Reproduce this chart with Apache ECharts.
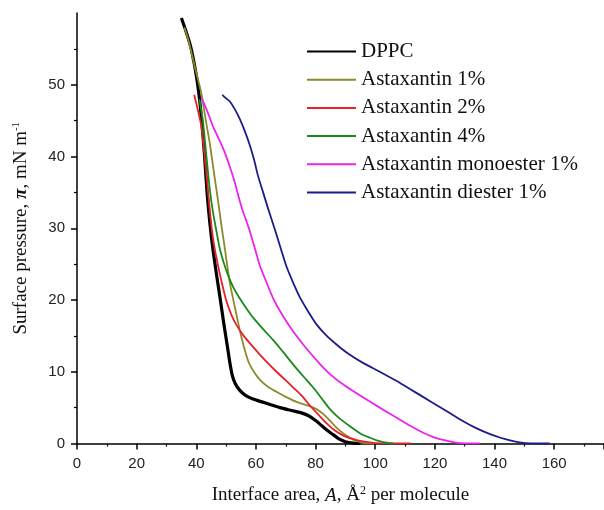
<!DOCTYPE html>
<html>
<head>
<meta charset="utf-8">
<script src="https://cdn.jsdelivr.net/npm/echarts@6/dist/echarts.min.js"></script>
<style>
  html, body { margin: 0; padding: 0; background: #fff; }
  #chart { width: 604px; height: 510px; }
</style>
</head>
<body>
<div id="chart"></div>
<script>
// [area A (Å² per molecule), surface pressure π (mN/m)]
const dppc = [[35.0,59.3],[36.5,57.5],[38.0,55.5],[39.5,52.5],[40.8,49],[41.8,45],[42.7,40.5],[43.6,35],[44.6,30.5],[45.6,27],[46.8,23.5],[48.0,20.2],[49.3,16.5],[50.4,13.6],[51.2,11.4],[52.0,9.6],[53.0,8.4],[54.6,7.4],[56.5,6.7],[59,6.2],[62,5.8],[65,5.4],[68,5.0],[72,4.6],[75,4.3],[77.5,3.9],[80,3.2],[82,2.5],[84,1.8],[86,1.2],[88,0.6],[90,0.25],[92.5,0.05],[95,0]]
const asta1 = [[36.0,58.0],[37.5,56.0],[39.5,52.5],[41.7,48.8],[43.2,45],[44.5,41.9],[46.0,37.5],[47.3,33.8],[48.5,30.2],[49.6,27.1],[51.2,22.5],[53.5,17.9],[55.2,14.7],[57.4,11.5],[59.3,10],[61.3,8.9],[64,7.9],[66.9,7.2],[70,6.5],[73.6,5.8],[76.5,5.4],[79.2,5.0],[81,4.6],[82.6,4.1],[84.8,3.2],[87.0,2.2],[89.3,1.4],[91.5,0.8],[93.5,0.35],[96,0.1],[100,0]]
const asta2 = [[39.3,48.6],[40.5,46.5],[41.7,44.2],[42.9,39.6],[44.3,33.5],[45.3,29.5],[46.2,27.1],[47.3,24.8],[48.5,22.5],[50,20],[51.8,17.9],[53.5,16.5],[55.7,15.1],[58.5,13.7],[61.3,12.4],[64,11.2],[66.9,10.0],[70,8.8],[72.5,7.8],[75.5,6.6],[78.1,5.3],[81,4],[83.7,2.8],[86.5,1.8],[89.3,1.1],[92,0.7],[94.9,0.35],[99.3,0.1],[104,0.02],[112,0]]
const asta4 = [[41.0,48.0],[42.2,45],[43.4,40],[44.5,35.5],[45.6,32.2],[46.8,29.5],[47.9,27.1],[49.2,25.2],[50.7,23.4],[52.5,21.7],[54.6,20.2],[57,18.7],[59.1,17.5],[62.5,15.9],[65.8,14.4],[69,12.8],[72.5,11.0],[76,9.3],[79.2,7.8],[82,6.3],[84.8,4.8],[88,3.5],[91.5,2.4],[95,1.4],[98.2,0.8],[100.5,0.45],[102.7,0.2],[106,0]]
const monoester = [[41.7,48.2],[43.5,46.5],[45.6,44.2],[47.6,42.4],[49.6,40.5],[51.3,38.5],[52.9,36.4],[54.3,34.2],[55.5,32.5],[56.8,31],[58.0,29.5],[59.7,27.1],[61.3,24.8],[63.5,22.5],[65.8,20.2],[69,17.8],[72.5,15.6],[77,13.2],[81.4,11.1],[85,9.6],[90,8.0],[96,6.4],[101.5,5.0],[107.2,3.6],[112,2.4],[116.1,1.5],[119.5,0.9],[122.8,0.5],[127.3,0.1],[135,0]]
const diester = [[48.7,48.6],[50.0,48.1],[51.2,47.7],[52.9,46.6],[54.6,45.2],[56.3,43.5],[58.0,41.5],[59.4,39.5],[60.7,37.3],[62.4,35],[64.1,32.7],[65.5,30.9],[66.9,29.1],[68.6,26.8],[70.3,24.6],[72.5,22.4],[74.7,20.4],[77.5,18.4],[80.3,16.6],[83.5,15.1],[87.0,13.8],[91,12.5],[96,11.2],[101.5,10.0],[107.2,8.7],[112.8,7.3],[118.4,5.9],[124,4.5],[129.5,3.1],[134,2.1],[138.5,1.3],[142,0.8],[145.2,0.45],[149.7,0.1],[154,0.02],[158.5,0]]

const names = ['DPPC', 'Astaxantin 1%', 'Astaxantin 2%', 'Astaxantin 4%', 'Astaxantin monoester 1%', 'Astaxantin diester 1%']
const colors = ['#000000', '#8c8a2a', '#e8202a', '#1a8a1a', '#ee22ee', '#1c1c8a']
const widths = [3.2, 1.8, 1.8, 1.8, 1.8, 1.8]
const allData = [dppc, asta1, asta2, asta4, monoester, diester]
const yTicks = [0, 10, 20, 30, 40, 50]

const serif = '"Liberation Serif", "Times New Roman", serif'
const sans = '"Liberation Sans", Arial, sans-serif'

var myChart = echarts.init(document.getElementById('chart'))
var option = {
  animation: false,
  grid: { left: 77, right: 0, top: 13, bottom: 64 },
  legend: {
    orient: 'vertical',
    left: 301,
    top: 36,
    itemWidth: 49,
    itemHeight: 14,
    itemGap: 7.2,
    itemStyle: { opacity: 0 },
    textStyle: { fontFamily: serif, fontSize: 21, color: '#111', lineHeight: 20 },
    data: names
  },
  xAxis: {
    type: 'value',
    min: 0,
    max: 176.7,
    interval: 20,
    splitLine: { show: false },
    axisLine: { lineStyle: { color: '#000', width: 1.5 } },
    axisTick: { length: 6, lineStyle: { color: '#000', width: 1.5 } },
    minorTick: { show: true, splitNumber: 2, length: 3, lineStyle: { color: '#000', width: 1.2 } },
    axisLabel: { showMaxLabel: false, margin: 13, fontFamily: sans, fontSize: 15, color: '#222' },
    name: '{n|Interface area, }{i|A}{n|, Å}{sup|2}{n| per molecule}',
    nameLocation: 'middle',
    nameGap: 41,
    nameTextStyle: {
      rich: {
        n: { fontFamily: serif, fontSize: 19, color: '#111' },
        i: { fontFamily: serif, fontSize: 19, fontStyle: 'italic', color: '#111' },
        sup: { fontFamily: serif, fontSize: 12, color: '#111', padding: [0, 0, 10, 0] }
      }
    }
  },
  yAxis: {
    type: 'value',
    min: 0,
    max: 60,
    interval: 10,
    splitLine: { show: false },
    axisLine: { lineStyle: { color: '#000', width: 1.5 } },
    axisTick: { length: 6, customValues: yTicks, lineStyle: { color: '#000', width: 1.5 } },
    minorTick: { show: true, splitNumber: 2, length: 3, lineStyle: { color: '#000', width: 1.2 } },
    axisLabel: { customValues: yTicks, margin: 12, fontFamily: sans, fontSize: 15, color: '#222' },
    name: '{n|Surface pressure, }{i|π}{n|, mN m}{sup|-1}',
    nameLocation: 'middle',
    nameGap: 45,
    nameRotate: 90,
    nameTextStyle: {
      rich: {
        n: { fontFamily: serif, fontSize: 19, color: '#111' },
        i: { fontFamily: serif, fontSize: 19, fontStyle: 'italic', fontWeight: 'bold', color: '#111' },
        sup: { fontFamily: serif, fontSize: 11, color: '#111', padding: [0, 0, 10, 0] }
      }
    }
  },
  series: allData.map(function (d, i) {
    return {
      name: names[i],
      type: 'line',
      data: d,
      symbol: 'none',
      smooth: 0.25,
      z: i === 0 ? 1 : 2 + i,
      color: colors[i],
      lineStyle: { color: colors[i], width: widths[i] }
    }
  })
}
option && myChart.setOption(option)
</script>
</body>
</html>
